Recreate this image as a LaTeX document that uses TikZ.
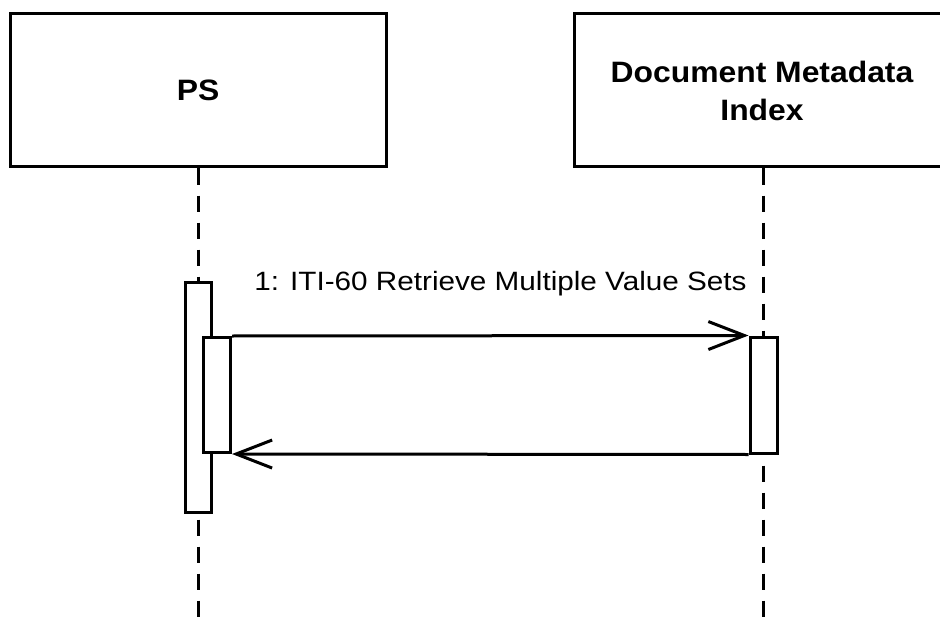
\documentclass[tikz,border=0pt]{standalone}
\usepackage{fontspec}
\setmainfont{Liberation Sans}
\newfontfamily\headfont[FakeStretch=1.08]{Liberation Sans}
\newfontfamily\msgfont[FakeStretch=1.12]{Liberation Sans}
\usetikzlibrary{arrows.meta}
\begin{document}
\begin{tikzpicture}[x=1pt,y=-1pt,line width=3pt,
  lifebox/.style={draw,fill=white,rectangle,minimum width=376pt,minimum height=153pt,
    inner sep=0pt,align=center,font=\headfont\bfseries\fontsize{29.5}{38}\selectfont},
  actbar/.style={draw,fill=white,rectangle,minimum width=26pt,inner sep=0pt},
  lifeline/.style={dash pattern=on 16pt off 11pt},
  msg/.style={-{Straight Barb[length=36pt,width=28pt,line width=3pt]}},
  msglabel/.style={font=\msgfont\fontsize{26.5}{30}\selectfont,inner sep=0pt,anchor=base}]
\useasboundingbox (0,0) rectangle (940,623);
\clip (0,0) rectangle (940,623);
\fill[white] (0,0) rectangle (940,623);

% participants
\node[lifebox] (ps) at (198,90.5) {PS};
\node[lifebox] (dmi) at (762,90.5) {Document Metadata\\Index};

% lifelines
\coordinate (psend) at (198.5,640);
\coordinate (dmiend) at (763,640);
\draw[lifeline] (ps.south -| psend) -- (psend);
\draw[lifeline] (dmi.south -| dmiend) -- (dmiend);

% activation bars
\node[actbar,minimum height=230pt] (act1) at (198.5,397) {};
\node[actbar,minimum width=27pt,minimum height=115pt] (act2) at (217,395) {};
\node[actbar,minimum width=27pt,minimum height=116pt] (act3) at (763.5,395) {};

% messages
\draw[msg] (act2.north east) -- (act3.north west);
\draw[msg] (act3.south west) -- (act2.south east);
\node[msglabel] (m1) at (500.5,290) {1: ITI-60 Retrieve Multiple Value Sets};
\end{tikzpicture}
\end{document}
